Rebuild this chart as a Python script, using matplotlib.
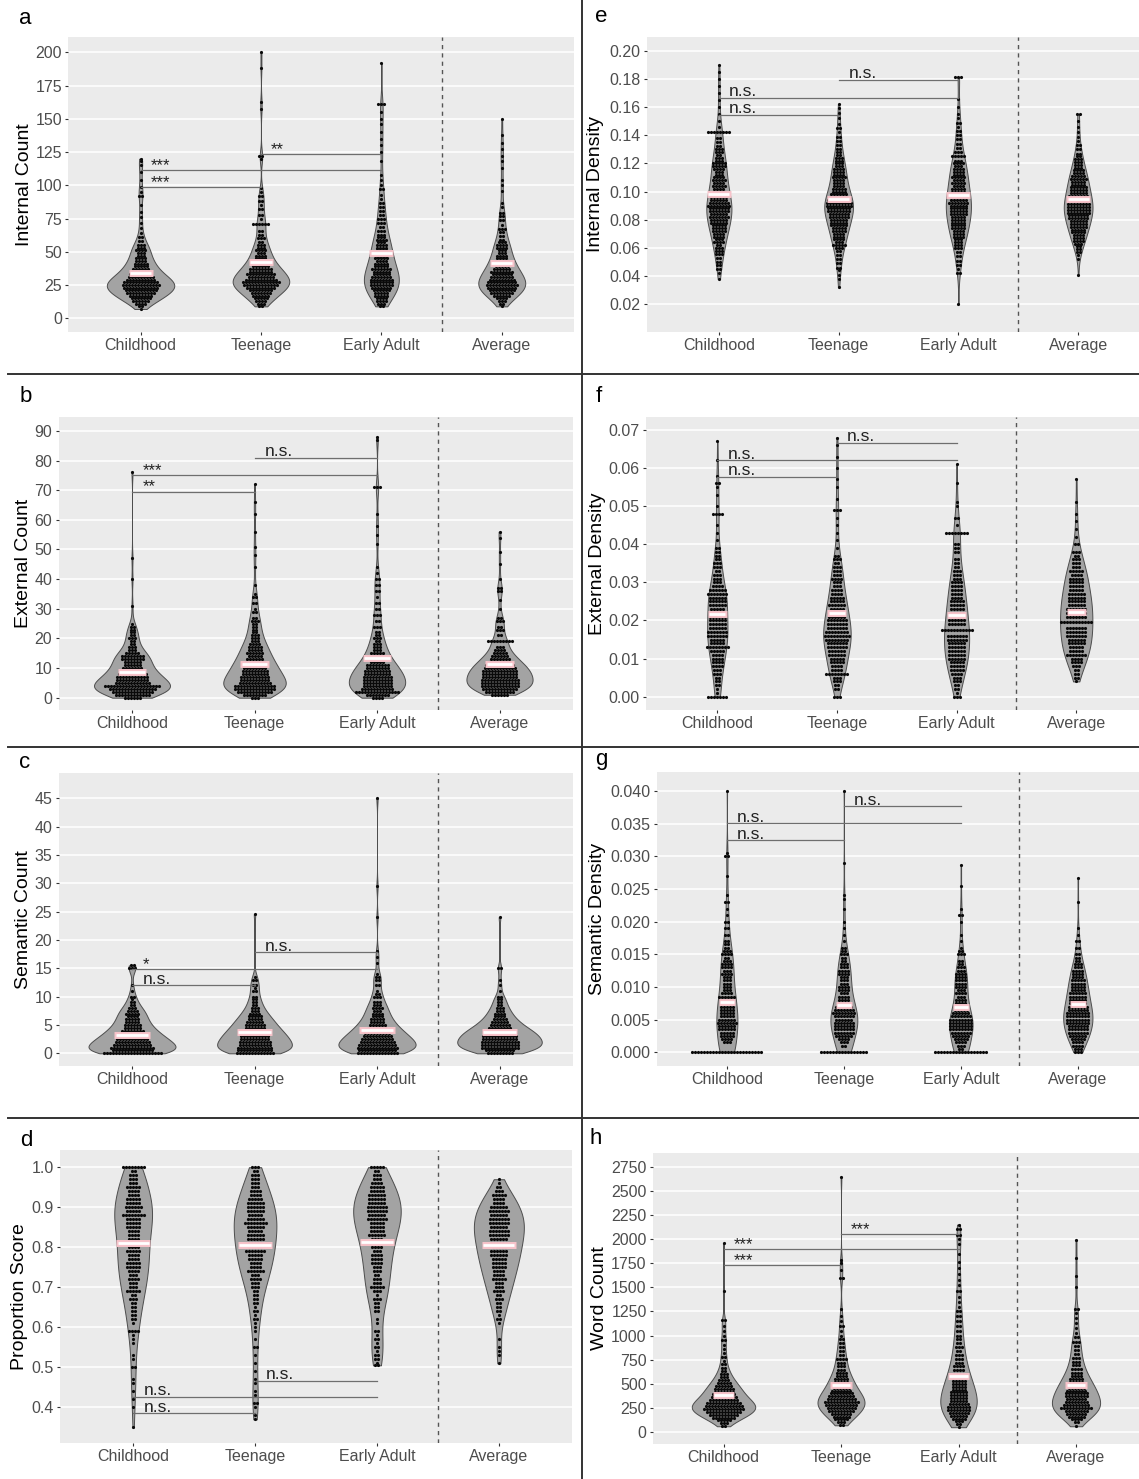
import numpy as np
import matplotlib
matplotlib.use("Agg")
import matplotlib.pyplot as plt
from matplotlib.lines import Line2D
from matplotlib import transforms

plt.rcParams["font.family"] = ["Liberation Sans", "DejaVu Sans"]

groups = ["Childhood", "Teenage", "Early Adult", "Average"]

# binned scores per group: (value, number of participants in that bin)
internal_count = [
    [(7,1),(9,2),(11,4),(13,6),(15,7),(17,8),(19,10),(21,11),(23,12),(25,13),(27,12),(29,10),(31,9),(33,8),
     (35,6),(37,6),(39,5),(41,5),(43,4),(45,4),(47,3),(49,3),(51,4),(53,3),(55,3),(58,2),(61,2),(64,1),
     (68,1),(72,1),(76,1),(80,1),(85,1),(92,2),(95,1),(99,1),(104,1),(110,1),(115,1),(118,1),(120,1)],
    [(9,2),(11,3),(13,4),(15,5),(17,6),(19,7),(21,8),(23,10),(25,12),(27,13),(29,11),(31,9),(33,10),(35,8),
     (37,8),(39,6),(41,5),(43,5),(45,4),(47,4),(49,3),(51,4),(53,3),(55,3),(57,2),(60,3),(63,2),(66,2),
     (71,6),(75,1),(78,2),(82,2),(85,1),(88,2),(92,2),(95,1),(98,1),(120,1),(122,2),(157,1),(163,1),(188,1),(200,1)],
    [(9,2),(11,3),(13,4),(15,4),(17,5),(19,5),(21,6),(23,7),(25,8),(27,8),(29,8),(31,7),(33,6),(35,6),
     (37,7),(39,5),(41,5),(43,4),(45,5),(47,4),(49,4),(51,4),(53,4),(55,4),(57,3),(59,4),(61,3),(63,3),
     (66,3),(69,2),(72,3),(75,3),(78,2),(81,2),(84,2),(87,2),(90,1),(93,1),(97,2),(100,1),(104,1),(108,1),
     (118,1),(125,1),(130,1),(135,1),(140,1),(146,1),(150,1),(155,1),(161,3),(192,1)],
    [(9,1),(11,2),(13,3),(15,4),(17,6),(19,8),(21,9),(23,10),(25,11),(27,10),(29,9),(31,8),(33,7),(35,8),
     (37,6),(39,5),(41,5),(43,5),(45,4),(47,4),(49,3),(51,3),(53,4),(55,4),(57,3),(59,2),(62,2),(65,2),
     (67,3),(70,1),(74,2),(77,2),(79,2),(84,1),(87,1),(96,1),(100,1),(104,1),(113,1),(118,1),(122,1),
     (127,1),(132,1),(138,1),(150,1)],
]
internal_count_means = [33.8, 42.3, 49.3, 41.8]
internal_count_tests = [(0, 1, 98.9, "***"), (0, 2, 111.3, "***"), (1, 2, 123.5, "**")]

external_count = [
    [(0,6),(1,12),(2,14),(3,16),(4,19),(5,12),(6,11),(7,11),(8,10),(9,8),(10,7),(11,6),(12,6),(13,8),(14,8),
     (15,5),(16,3),(17,3),(18,2),(19,2),(20,3),(21,2),(22,2),(23,2),(24,2),(25,1),(31,1),(40,1),(47,1),(76,1)],
    [(0,3),(1,8),(2,12),(3,14),(4,14),(5,11),(6,10),(7,10),(8,9),(9,9),(10,8),(11,8),(12,7),(13,6),(14,5),
     (15,6),(16,5),(17,5),(18,4),(19,3),(20,3),(21,3),(22,2),(23,2),(24,2),(25,2),(26,3),(27,2),(29,2),
     (30,1),(32,2),(34,2),(35,1),(38,1),(44,1),(48,1),(51,1),(56,1),(62,1),(66,1),(72,1)],
    [(0,4),(1,8),(2,15),(3,11),(4,10),(5,10),(6,10),(7,10),(8,9),(9,9),(10,8),(11,8),(12,5),(13,4),(14,4),
     (15,5),(16,3),(17,3),(18,3),(19,2),(20,3),(21,2),(22,2),(24,3),(26,2),(28,3),(30,2),(32,2),(34,1),
     (36,2),(38,2),(40,2),(42,1),(44,1),(52,1),(55,1),(58,1),(62,1),(71,3),(87,1),(88,1)],
    [(1,6),(2,10),(3,12),(4,13),(5,13),(6,13),(7,12),(8,12),(9,12),(10,11),(11,10),(12,8),(13,7),(14,6),
     (15,5),(16,4),(17,3),(19,9),(21,2),(23,3),(24,2),(26,3),(27,2),(30,1),(33,1),(36,2),(37,2),(40,1),
     (45,1),(49,1),(54,1),(56,1)],
]
external_count_means = [8.8, 11.5, 13.4, 11.3]
external_count_tests = [(0, 1, 69.5, "**"), (0, 2, 75.2, "***"), (1, 2, 81.0, "n.s.")]

semantic_count = [
    [(0,20),(0.5,14),(1,15),(1.5,13),(2,12),(2.5,11),(3,10),(3.5,8),(4,8),(4.5,6),(5,6),(5.5,5),(6,5),
     (6.5,4),(7,5),(7.5,4),(8,3),(8.5,2),(9,2),(9.5,1),(10,2),(11,1),(12,1),(15,3),(15.5,2)],
    [(0,13),(0.5,12),(1,12),(1.5,11),(2,11),(2.5,10),(3,10),(3.5,9),(4,8),(4.5,7),(5,7),(5.5,6),(6,5),
     (6.5,5),(7,4),(7.5,3),(8,3),(8.5,2),(9,2),(9.5,2),(10,2),(11,2),(11.5,1),(12,2),(13,2),(13.5,1),(24.5,1)],
    [(0,14),(0.5,13),(1,14),(1.5,13),(2,12),(2.5,11),(3,10),(3.5,9),(4,8),(4.5,7),(5,6),(5.5,5),(6,5),
     (6.5,4),(7,4),(7.5,3),(8,4),(8.5,3),(9,3),(10,3),(10.5,2),(11,1),(12,2),(13,2),(13.5,2),(14,1),
     (16,1),(17,1),(18,1),(24,1),(29.5,1),(45,1)],
    [(0,9),(0.5,10),(1,13),(1.5,13),(2,13),(2.5,12),(3,12),(3.5,11),(4,10),(4.5,8),(5,7),(5.5,6),(6,5),
     (6.5,4),(7,4),(7.5,3),(8,3),(8.5,2),(9,2),(9.5,2),(10,2),(11,1),(12,1),(13,1),(15,2),(24,1)],
]
semantic_count_means = [3.2, 3.8, 4.2, 3.8]
semantic_count_tests = [(0, 1, 12.05, "n.s."), (0, 2, 14.9, "*"), (1, 2, 17.8, "n.s.")]

proportion_score = [
    [(0.35,1),(0.40,1),(0.42,1),(0.44,1),(0.46,1),(0.47,1),(0.50,2),(0.52,1),(0.53,1),(0.56,1),(0.57,1),
     (0.58,1),(0.59,4),(0.61,1),(0.62,2),(0.63,2),(0.64,2),(0.65,2),(0.66,2),(0.67,3),(0.68,2),(0.69,5),
     (0.70,3),(0.71,3),(0.72,4),(0.73,3),(0.74,4),(0.75,5),(0.76,5),(0.77,4),(0.78,4),(0.79,5),(0.80,4),
     (0.81,3),(0.82,4),(0.83,4),(0.84,4),(0.85,5),(0.86,5),(0.87,5),(0.88,8),(0.89,5),(0.90,6),(0.91,5),
     (0.92,5),(0.93,4),(0.94,4),(0.95,5),(0.96,3),(0.97,3),(0.98,3),(0.99,2),(1.0,8)],
    [(0.37,1),(0.38,1),(0.40,1),(0.41,2),(0.43,1),(0.44,1),(0.46,1),(0.47,1),(0.49,1),(0.51,1),(0.53,1),
     (0.55,2),(0.57,1),(0.59,1),(0.60,1),(0.61,1),(0.62,2),(0.63,1),(0.64,2),(0.65,1),(0.66,2),(0.67,2),
     (0.68,2),(0.69,2),(0.70,3),(0.71,3),(0.72,4),(0.73,3),(0.74,6),(0.75,4),(0.76,4),(0.77,5),(0.78,5),
     (0.79,7),(0.80,5),(0.81,5),(0.82,6),(0.83,6),(0.84,5),(0.85,6),(0.86,8),(0.87,6),(0.88,5),(0.89,6),
     (0.90,6),(0.91,6),(0.92,5),(0.93,4),(0.94,4),(0.95,3),(0.96,3),(0.97,3),(0.98,3),(0.99,2),(1.0,3)],
    [(0.505,2),(0.51,1),(0.52,2),(0.53,2),(0.54,1),(0.55,2),(0.56,1),(0.57,2),(0.58,1),(0.59,2),(0.61,1),
     (0.62,1),(0.64,2),(0.65,2),(0.66,2),(0.67,3),(0.68,1),(0.69,3),(0.70,5),(0.71,3),(0.72,3),(0.73,2),
     (0.74,3),(0.75,3),(0.76,4),(0.77,4),(0.78,4),(0.79,3),(0.80,4),(0.81,3),(0.82,4),(0.83,6),(0.84,5),
     (0.85,5),(0.86,5),(0.87,7),(0.88,6),(0.89,7),(0.90,7),(0.91,6),(0.92,6),(0.93,6),(0.94,5),(0.95,5),
     (0.96,4),(0.97,3),(0.98,3),(0.99,2),(1.0,5)],
    [(0.51,1),(0.53,1),(0.54,1),(0.55,1),(0.57,1),(0.61,1),(0.62,2),(0.63,1),(0.64,2),(0.65,2),(0.66,2),
     (0.67,3),(0.68,2),(0.69,4),(0.70,3),(0.71,3),(0.72,5),(0.73,4),(0.74,4),(0.75,5),(0.76,5),(0.77,5),
     (0.78,6),(0.79,6),(0.80,5),(0.81,6),(0.82,6),(0.83,7),(0.84,7),(0.85,6),(0.86,7),(0.87,7),(0.88,6),
     (0.89,7),(0.90,6),(0.91,4),(0.92,4),(0.93,5),(0.94,3),(0.95,2),(0.96,1),(0.97,1)],
]
proportion_score_means = [0.8115, 0.8065, 0.8125, 0.8065]
proportion_score_tests = [(0, 1, 0.385, "n.s."), (0, 2, 0.4265, "n.s."), (1, 2, 0.4665, "n.s.")]

internal_density = [
    [(0.038,1),(0.042,1),(0.045,2),(0.048,2),(0.050,2),(0.053,2),(0.056,3),(0.058,3),(0.060,3),(0.062,2),
     (0.064,4),(0.066,3),(0.068,4),(0.070,4),(0.072,5),(0.074,5),(0.076,5),(0.078,6),(0.080,6),(0.082,7),
     (0.084,6),(0.086,7),(0.088,7),(0.090,8),(0.092,7),(0.094,6),(0.096,6),(0.098,5),(0.100,5),(0.102,4),
     (0.104,5),(0.106,4),(0.108,5),(0.110,4),(0.112,3),(0.114,3),(0.116,4),(0.118,5),(0.120,5),(0.122,3),
     (0.124,3),(0.126,2),(0.128,3),(0.130,3),(0.132,2),(0.135,2),(0.138,2),(0.142,8),(0.146,1),(0.150,1),
     (0.155,1),(0.160,1),(0.165,1),(0.170,1),(0.175,1),(0.180,1),(0.185,1),(0.190,1)],
    [(0.032,1),(0.038,1),(0.041,1),(0.044,1),(0.046,2),(0.049,2),(0.052,2),(0.055,2),(0.058,2),(0.060,3),
     (0.062,5),(0.064,3),(0.066,4),(0.068,4),(0.070,4),(0.072,5),(0.074,5),(0.076,6),(0.078,6),(0.080,6),
     (0.082,7),(0.084,7),(0.086,8),(0.088,8),(0.090,9),(0.092,9),(0.094,8),(0.096,7),(0.098,6),(0.100,5),
     (0.102,5),(0.104,4),(0.106,4),(0.108,4),(0.110,5),(0.112,4),(0.114,4),(0.116,4),(0.118,3),(0.120,3),
     (0.122,3),(0.124,3),(0.126,2),(0.128,2),(0.130,2),(0.133,2),(0.136,2),(0.139,2),(0.142,1),(0.145,2),
     (0.148,1),(0.152,1),(0.156,1),(0.159,1),(0.162,1)],
    [(0.020,1),(0.042,2),(0.045,1),(0.048,2),(0.051,2),(0.054,2),(0.057,2),(0.060,3),(0.062,3),(0.064,3),
     (0.066,3),(0.068,4),(0.070,4),(0.072,4),(0.074,5),(0.076,5),(0.078,5),(0.080,5),(0.082,5),(0.084,6),
     (0.086,6),(0.088,6),(0.090,6),(0.092,7),(0.094,6),(0.096,5),(0.098,5),(0.100,5),(0.102,5),(0.104,4),
     (0.106,5),(0.108,4),(0.110,5),(0.112,4),(0.114,4),(0.116,4),(0.118,3),(0.120,4),(0.122,3),(0.125,5),
     (0.128,3),(0.131,2),(0.134,2),(0.137,2),(0.140,2),(0.143,2),(0.146,1),(0.149,2),(0.152,1),(0.155,1),
     (0.160,1),(0.166,1),(0.181,3)],
    [(0.041,1),(0.052,1),(0.055,1),(0.057,2),(0.059,2),(0.061,2),(0.063,3),(0.065,4),(0.067,4),(0.069,4),
     (0.071,5),(0.073,5),(0.075,6),(0.077,6),(0.079,6),(0.081,7),(0.083,7),(0.085,8),(0.087,8),(0.089,8),
     (0.091,8),(0.093,7),(0.095,7),(0.097,7),(0.099,6),(0.101,6),(0.103,6),(0.105,5),(0.107,5),(0.109,6),
     (0.111,5),(0.113,4),(0.115,4),(0.117,3),(0.119,3),(0.121,3),(0.123,3),(0.125,2),(0.127,2),(0.130,2),
     (0.133,2),(0.136,1),(0.139,1),(0.142,1),(0.146,1),(0.150,1),(0.155,2)],
]
internal_density_means = [0.0983, 0.0945, 0.0976, 0.0948]
internal_density_tests = [(0, 1, 0.1545, "n.s."), (0, 2, 0.1666, "n.s."), (1, 2, 0.1794, "n.s.")]

external_density = [
    [(0.000,7),(0.001,1),(0.002,1),(0.003,2),(0.004,2),(0.005,2),(0.006,3),(0.007,3),(0.008,4),(0.009,4),
     (0.010,4),(0.011,4),(0.012,5),(0.013,8),(0.014,5),(0.015,5),(0.016,7),(0.017,7),(0.018,6),(0.019,6),
     (0.020,6),(0.021,6),(0.022,5),(0.023,5),(0.024,6),(0.025,6),(0.026,6),(0.027,7),(0.028,6),(0.029,4),
     (0.030,3),(0.031,3),(0.032,3),(0.033,2),(0.034,3),(0.035,3),(0.036,2),(0.037,2),(0.038,2),(0.039,2),
     (0.041,1),(0.043,1),(0.045,1),(0.048,4),(0.050,1),(0.053,1),(0.055,1),(0.056,2),(0.058,1),(0.062,1),(0.067,1)],
    [(0.000,3),(0.002,2),(0.003,2),(0.004,3),(0.005,3),(0.006,8),(0.007,4),(0.008,4),(0.009,5),(0.010,5),
     (0.011,6),(0.012,6),(0.013,7),(0.014,7),(0.015,8),(0.016,9),(0.017,8),(0.018,7),(0.019,7),(0.020,7),
     (0.021,6),(0.022,6),(0.023,5),(0.024,6),(0.025,5),(0.026,5),(0.027,4),(0.028,4),(0.029,3),(0.030,3),
     (0.031,4),(0.032,3),(0.033,3),(0.034,3),(0.035,2),(0.036,3),(0.037,2),(0.039,1),(0.041,1),(0.043,1),
     (0.045,1),(0.047,1),(0.049,3),(0.052,1),(0.055,1),(0.057,1),(0.060,1),(0.063,1),(0.066,1),(0.068,1)],
    [(0.000,3),(0.001,1),(0.002,2),(0.003,2),(0.004,3),(0.005,3),(0.006,4),(0.007,5),(0.008,5),(0.009,5),
     (0.010,6),(0.011,6),(0.012,6),(0.013,6),(0.014,6),(0.015,7),(0.016,7),(0.0175,11),(0.019,6),(0.020,6),
     (0.021,5),(0.022,5),(0.023,5),(0.024,5),(0.025,5),(0.026,4),(0.027,4),(0.028,4),(0.029,4),(0.030,4),
     (0.031,3),(0.032,3),(0.033,3),(0.034,2),(0.035,2),(0.036,2),(0.038,2),(0.039,2),(0.040,2),(0.043,8),
     (0.045,1),(0.047,2),(0.050,1),(0.051,1),(0.056,1),(0.061,1)],
    [(0.004,1),(0.005,2),(0.006,2),(0.007,2),(0.008,3),(0.009,4),(0.010,4),(0.011,7),(0.012,5),(0.013,5),
     (0.014,6),(0.015,6),(0.016,7),(0.017,7),(0.018,7),(0.0195,11),(0.021,7),(0.022,7),(0.023,7),(0.024,6),
     (0.025,6),(0.026,6),(0.027,6),(0.028,5),(0.029,5),(0.030,5),(0.031,5),(0.032,4),(0.033,5),(0.034,3),
     (0.035,3),(0.036,3),(0.037,2),(0.038,3),(0.040,2),(0.042,1),(0.044,1),(0.046,1),(0.048,1),(0.051,1),(0.057,1)],
]
external_density_means = [0.0216, 0.0220, 0.0214, 0.0221]
external_density_tests = [(0, 1, 0.0577, "n.s."), (0, 2, 0.0621, "n.s."), (1, 2, 0.0667, "n.s.")]

semantic_density = [
    [(0.0,24),(0.0015,3),(0.0020,4),(0.0025,5),(0.0030,5),(0.0035,6),(0.0040,6),(0.0045,7),(0.0050,6),
     (0.0055,5),(0.0060,5),(0.0065,5),(0.0070,5),(0.0075,4),(0.0080,5),(0.0085,6),(0.0090,4),(0.0095,3),
     (0.0100,3),(0.0105,3),(0.0110,3),(0.0115,3),(0.0120,4),(0.0125,3),(0.0130,4),(0.0135,4),(0.0140,3),
     (0.0145,2),(0.0150,4),(0.0155,3),(0.0160,2),(0.0165,2),(0.0170,2),(0.0180,2),(0.0190,2),(0.0200,2),
     (0.0210,1),(0.0220,1),(0.0230,2),(0.0240,1),(0.0270,1),(0.0300,2),(0.0305,1),(0.0400,1)],
    [(0.0,16),(0.0010,2),(0.0015,3),(0.0020,4),(0.0025,6),(0.0030,7),(0.0035,7),(0.0040,7),(0.0045,7),
     (0.0050,6),(0.0055,7),(0.0060,8),(0.0065,7),(0.0070,6),(0.0075,4),(0.0080,4),(0.0085,4),(0.0090,3),
     (0.0095,4),(0.0100,4),(0.0105,3),(0.0110,3),(0.0115,3),(0.0120,4),(0.0125,4),(0.0130,3),(0.0135,3),
     (0.0140,2),(0.0145,2),(0.0150,3),(0.0155,2),(0.0160,2),(0.0170,1),(0.0180,1),(0.0190,1),(0.0200,1),
     (0.0220,1),(0.0235,1),(0.0240,1),(0.0290,1),(0.0400,1)],
    [(0.0,18),(0.0005,2),(0.0010,3),(0.0015,4),(0.0020,5),(0.0025,6),(0.0030,7),(0.0035,8),(0.0040,8),
     (0.0045,8),(0.0050,8),(0.0055,7),(0.0060,6),(0.0065,5),(0.0070,4),(0.0075,4),(0.0080,4),(0.0085,3),
     (0.0090,4),(0.0095,3),(0.0100,4),(0.0105,4),(0.0110,4),(0.0115,4),(0.0120,4),(0.0125,3),(0.0130,3),
     (0.0135,2),(0.0140,2),(0.0150,3),(0.0155,2),(0.0160,1),(0.0170,1),(0.0180,1),(0.0200,1),(0.0210,2),
     (0.0220,1),(0.0255,1),(0.0287,1)],
    [(0.0,3),(0.0005,3),(0.0010,4),(0.0015,4),(0.0020,5),(0.0025,6),(0.0030,7),(0.0035,7),(0.0040,7),
     (0.0045,8),(0.0050,8),(0.0055,8),(0.0060,8),(0.0065,7),(0.0070,7),(0.0075,6),(0.0080,6),(0.0085,6),
     (0.0090,6),(0.0095,5),(0.0100,5),(0.0105,5),(0.0110,5),(0.0115,4),(0.0120,4),(0.0125,4),(0.0130,3),
     (0.0135,3),(0.0140,2),(0.0145,2),(0.0150,2),(0.0160,2),(0.0170,2),(0.0180,1),(0.0190,1),(0.0230,1),(0.0267,1)],
]
semantic_density_means = [0.00765, 0.0072, 0.00693, 0.00735]
semantic_density_tests = [(0, 1, 0.0325, "n.s."), (0, 2, 0.0351, "n.s."), (1, 2, 0.0377, "n.s.")]

word_count = [
    [(60,2),(90,3),(120,5),(150,8),(180,10),(210,12),(240,14),(270,13),(300,12),(330,10),(360,9),(390,8),
     (420,7),(450,7),(480,6),(510,5),(540,4),(570,3),(600,3),(630,2),(660,2),(700,2),(740,1),(780,2),
     (820,1),(860,1),(900,1),(950,2),(1000,1),(1050,1),(1100,1),(1160,2),(1460,1),(1960,1)],
    [(70,2),(100,3),(130,5),(160,6),(190,7),(220,9),(250,10),(280,11),(310,12),(340,10),(370,9),(400,8),
     (430,7),(460,6),(490,6),(520,5),(550,5),(580,4),(610,4),(640,3),(680,3),(720,3),(760,4),(800,2),
     (840,2),(880,2),(920,2),(960,2),(1000,1),(1050,1),(1100,2),(1150,1),(1200,1),(1280,1),(1600,2),
     (1680,1),(1750,1),(1780,1),(2640,1)],
    [(50,1),(80,2),(110,3),(140,5),(170,6),(200,7),(230,8),(260,8),(290,7),(320,6),(350,6),(380,6),
     (410,6),(440,5),(470,5),(500,5),(530,5),(560,5),(600,4),(640,4),(680,4),(720,3),(760,3),(800,3),
     (840,2),(880,3),(920,2),(960,2),(1000,2),(1050,2),(1100,2),(1150,2),(1200,2),(1250,2),(1300,1),
     (1350,1),(1400,1),(1460,2),(1520,1),(1580,1),(1640,1),(1700,1),(1760,1),(1850,1),(1950,1),(2000,1),
     (2040,2),(2100,2),(2150,1)],
    [(60,1),(100,2),(130,4),(160,6),(190,7),(220,8),(250,11),(280,9),(310,8),(340,7),(370,8),(400,8),
     (430,7),(460,6),(490,6),(520,5),(550,5),(580,4),(610,4),(650,4),(690,3),(730,3),(770,3),(810,2),
     (850,2),(890,2),(930,3),(980,2),(1030,1),(1080,1),(1130,1),(1180,1),(1230,1),(1270,2),(1500,1),
     (1620,1),(1800,1),(1990,1)],
]
word_count_means = [383, 490, 580, 484]
word_count_tests = [(0, 1, 1728, "***"), (0, 2, 1894, "***"), (1, 2, 2055, "***")]

W, H = 1139, 1479

# letter, y label, data, means, tests, box (px: left, top, right, bottom), ylim, ticks, tick format,
# violin widths, mean bar width, y label centre (px)
panels = [
    ("a", "Internal Count", internal_count, internal_count_means, internal_count_tests,
     (68.3, 37, 574, 332), (-10.3, 211.5), np.arange(0, 201, 25), "{:.0f}",
     [0.56, 0.47, 0.29, 0.39], 0.20, 24),
    ("b", "External Count", external_count, external_count_means, external_count_tests,
     (58.5, 417, 573, 710), (-4.15, 94.7), np.arange(0, 91, 10), "{:.0f}",
     [0.62, 0.51, 0.46, 0.54], 0.23, 24),
    ("c", "Semantic Count", semantic_count, semantic_count_means, semantic_count_tests,
     (58.5, 773, 573, 1066), (-2.24, 49.46), np.arange(0, 46, 5), "{:.0f}",
     [0.71, 0.61, 0.63, 0.69], 0.29, 24),
    ("d", "Proportion Score", proportion_score, proportion_score_means, proportion_score_tests,
     (60, 1150, 572, 1443), (0.311, 1.043), np.arange(0.4, 1.01, 0.1), "{:.1f}",
     [0.31, 0.35, 0.39, 0.41], 0.28, 20),
    ("e", "Internal Density", internal_density, internal_density_means, internal_density_tests,
     (647, 37, 1150, 332), (0.0003, 0.2097), np.arange(0.02, 0.201, 0.02), "{:.2f}",
     [0.21, 0.24, 0.21, 0.24], 0.20, 596),
    ("f", "External Density", external_density, external_density_means, external_density_tests,
     (645.5, 417, 1148, 710), (-0.0035, 0.0734), np.arange(0, 0.0701, 0.01), "{:.2f}",
     [0.17, 0.23, 0.21, 0.27], 0.16, 598),
    ("g", "Semantic Density", semantic_density, semantic_density_means, semantic_density_tests,
     (656.7, 772, 1148, 1066), (-0.0021, 0.0429), np.arange(0, 0.0401, 0.005), "{:.3f}",
     [0.18, 0.23, 0.20, 0.25], 0.14, 598),
    ("h", "Word Count", word_count, word_count_means, word_count_tests,
     (653, 1153, 1146.5, 1444), (-124, 2892), np.arange(0, 2751, 250), "{:.0f}",
     [0.54, 0.40, 0.31, 0.41], 0.18, 600),
]
letter_pos = {"a": (25, 18), "b": (26, 397), "c": (25, 763), "d": (26, 1140),
              "e": (601, 17), "f": (599, 397), "g": (601, 760), "h": (596, 1138)}

VIOLIN_FILL = "#A3A3A3"
VIOLIN_EDGE = "#4D4D4D"
DOT_PX = 3.0


def nrd0(x):
    sd = np.std(x, ddof=1)
    iqr = np.subtract(*np.percentile(x, [75, 25]))
    lo = min(sd, iqr / 1.34) if iqr > 0 else sd
    return 0.9 * lo * len(x) ** -0.2


def draw_group(ax, pos, pairs, width, step):
    vals = np.array([p[0] for p in pairs], dtype=float)
    cnts = np.array([p[1] for p in pairs], dtype=int)
    data = np.repeat(vals, cnts)
    bw = nrd0(data)
    grid = np.linspace(data.min(), data.max(), 512)
    dens = np.exp(-0.5 * ((grid[:, None] - data[None, :]) / bw) ** 2).sum(axis=1)
    half = dens / dens.max() * width / 2
    ax.fill_betweenx(grid, pos - half, pos + half, facecolor=VIOLIN_FILL,
                     edgecolor=VIOLIN_EDGE, linewidth=0.7, zorder=2)
    # centred dot stacks, one row per bin
    xs, ys = [], []
    for v, n in zip(vals, cnts):
        off = (np.arange(n) - (n - 1) / 2) * step
        xs.extend(pos + off)
        ys.extend([v] * n)
    ax.scatter(xs, ys, s=5.2, c="#0A0A0A", linewidths=0, zorder=3)


fig = plt.figure(figsize=(W / 100, H / 100), dpi=100)

for (letter, ylabel, data, means, tests, box, ylim, ticks, fmt,
     widths, bar_w, ylab_x) in panels:
    left, top, right, bottom = box
    ax = fig.add_axes([left / W, 1 - bottom / H, (right - left) / W, (bottom - top) / H])
    ax.set_facecolor("#EBEBEB")
    for s in ax.spines.values():
        s.set_visible(False)
    ax.set_xlim(0.4, 4.6)
    ax.set_ylim(*ylim)
    ax.set_yticks(ticks)
    ax.set_yticklabels([fmt.format(t) for t in ticks])
    ax.set_xticks(range(1, 5))
    ax.set_xticklabels(groups)
    ax.yaxis.grid(True, color="white", linewidth=1.1)
    ax.xaxis.grid(False)
    ax.set_axisbelow(True)
    ax.tick_params(axis="both", length=2.5, width=0.8, color="#333333",
                   labelsize=11.5, labelcolor="#4D4D4D", pad=2)

    ax.set_ylabel(ylabel, fontsize=14, color="black", va="center")
    ax.yaxis.set_label_coords((ylab_x - left) / (right - left), 0.5)

    step = DOT_PX / ((right - left) / 4.2)
    for i, pairs in enumerate(data):
        draw_group(ax, i + 1, pairs, widths[i], step)
        # mean marker
        ax.hlines(means[i], i + 1 - bar_w / 2, i + 1 + bar_w / 2, color="#F7C3CA",
                  linewidth=5.0, capstyle="butt", zorder=4)
        ax.hlines(means[i], i + 1 - bar_w / 2 + 0.012, i + 1 + bar_w / 2 - 0.012,
                  color="white", linewidth=2.0, capstyle="butt", zorder=5)

    ax.axvline(3.5, color="#555555", linewidth=1.0, linestyle=(0, (3, 3)), zorder=1)

    for g1, g2, y, label in tests:
        ax.plot([g1 + 1, g2 + 1], [y, y], color="#6E6E6E", linewidth=0.9, zorder=6)
        if label.startswith("*"):
            tr = transforms.offset_copy(ax.transData, fig=fig, x=0, y=3.3, units="points")
            ax.text(g1 + 1.085, y, label, transform=tr, fontsize=12, color="#222222",
                    ha="left", va="center", zorder=7)
        else:
            tr = transforms.offset_copy(ax.transData, fig=fig, x=0, y=1.0, units="points")
            ax.text(g1 + 1.085, y, label, transform=tr, fontsize=12.5, color="#222222",
                    ha="left", va="baseline", zorder=7)

    lx, ly = letter_pos[letter]
    fig.text(lx / W, 1 - ly / H, letter, fontsize=16, ha="center", va="center", color="black")

# panel separators
sep = dict(color="#333333", linewidth=1.4, transform=fig.transFigure)
fig.add_artist(Line2D([581.5 / W, 581.5 / W], [0, 1], **sep))
for y in (374, 747, 1118):
    fig.add_artist(Line2D([8 / W, 1], [1 - y / H, 1 - y / H], **sep))

fig.savefig("out.png", dpi=100)
